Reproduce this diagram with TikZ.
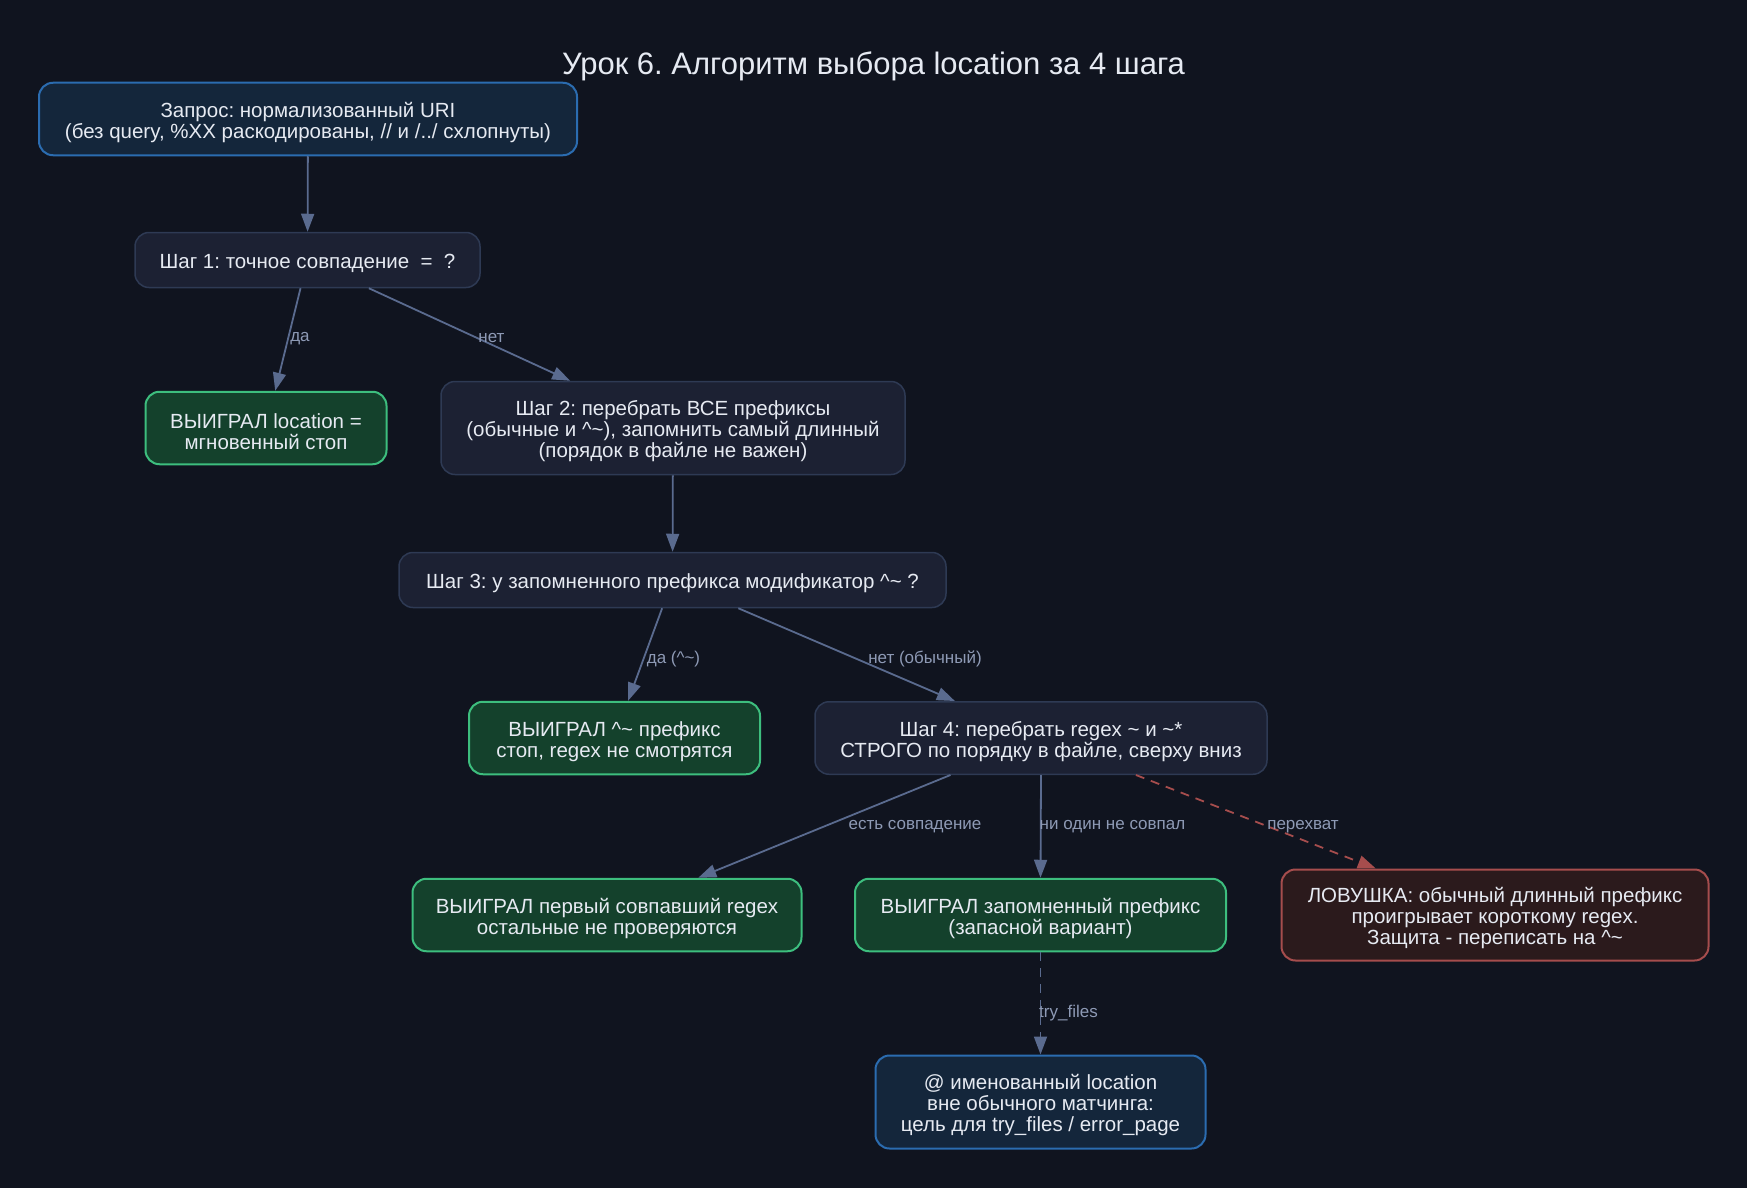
\documentclass[tikz,border=0pt]{standalone}
\usepackage{fontspec}
\setmainfont{Liberation Sans}
\usetikzlibrary{arrows.meta}
\definecolor{bg}{HTML}{10141F}
\definecolor{txt}{HTML}{E6EAF2}
\definecolor{nfill}{HTML}{1C2133}
\definecolor{nborder}{HTML}{2E3A54}
\definecolor{bfill}{HTML}{14263B}
\definecolor{bborder}{HTML}{2B6CB0}
\definecolor{gfill}{HTML}{14412C}
\definecolor{gborder}{HTML}{3DBE7E}
\definecolor{rfill}{HTML}{2B1A1C}
\definecolor{rborder}{HTML}{A64D4D}
\definecolor{ecol}{HTML}{5A6B8F}
\definecolor{lcol}{HTML}{8E9AB5}
\newcommand{\caret}{\textasciicircum}
\newcommand{\tild}{\textasciitilde}
\frenchspacing
\begin{document}
\begin{tikzpicture}[x=1pt,y=-1pt,
  box/.style={rounded corners=14pt, inner sep=0pt},
  btext/.style={align=center, inner sep=0pt, font=\fontsize{20.5}{21}\selectfont, text=txt},
  darkbox/.style={box, fill=nfill, draw=nborder, line width=1.5pt},
  bluebox/.style={box, fill=bfill, draw=bborder, line width=2pt},
  greenbox/.style={box, fill=gfill, draw=gborder, line width=2pt},
  redbox/.style={box, fill=rfill, draw=rborder, line width=2pt},
  conn/.style={draw=ecol, line width=1.8pt, -{Triangle[length=18pt,width=13pt]}},
  dconn/.style={conn, dash pattern=on 9pt off 7pt},
  rconn/.style={conn, draw=rborder, dash pattern=on 9pt off 7pt, -{Triangle[length=18pt,width=13pt,fill=rborder]}},
  elabel/.style={font=\fontsize{17}{18}\selectfont, text=lcol, inner sep=0pt}
]
\fill[bg] (0,0) rectangle (1747,1188);
\useasboundingbox (0,0) rectangle (1747,1188);

\node[text=txt, font=\fontsize{31}{34}\selectfont] (title) at (873.5,66) {Урок 6. Алгоритм выбора location за 4 шага};

\node[bluebox, minimum width=538pt, minimum height=72.5pt] (req) at (308,119) {};
\node[btext] (reqt) at ([yshift=-3.5pt]req.center)
  {Запрос: нормализованный URI\\(без query, \%XX раскодированы, // и /../ схлопнуты)};
\node[darkbox, minimum width=345pt, minimum height=55pt] (s1) at (307.5,260) {};
\node[btext] (s1t) at ([yshift=-3.5pt]s1.center)
  {Шаг 1: точное совпадение\ \ =\ \ ?};
\node[greenbox, minimum width=241pt, minimum height=72.5pt] (w1) at (266,428) {};
\node[btext] (w1t) at ([yshift=-3.5pt]w1.center)
  {ВЫИГРАЛ location =\\мгновенный стоп};
\node[darkbox, minimum width=464pt, minimum height=93pt] (s2) at (673,428) {};
\node[btext] (s2t) at ([yshift=-3.5pt]s2.center)
  {Шаг 2: перебрать ВСЕ префиксы\\(обычные и \caret\tild), запомнить самый длинный\\(порядок в файле не важен)};
\node[darkbox, minimum width=547pt, minimum height=55pt] (s3) at (672.5,580) {};
\node[btext] (s3t) at ([yshift=-3.5pt]s3.center)
  {Шаг 3: у запомненного префикса модификатор \caret\tild{} ?};
\node[greenbox, minimum width=291pt, minimum height=72.5pt] (w2) at (614.5,738) {};
\node[btext] (w2t) at ([yshift=-3.5pt]w2.center)
  {ВЫИГРАЛ \caret\tild{} префикс\\стоп, regex не смотрятся};
\node[darkbox, minimum width=452pt, minimum height=72.5pt] (s4) at (1041,738) {};
\node[btext] (s4t) at ([yshift=-3.5pt]s4.center)
  {Шаг 4: перебрать regex \tild{} и \tild*\\СТРОГО по порядку в файле, сверху вниз};
\node[greenbox, minimum width=389pt, minimum height=72.5pt] (w3) at (607,915) {};
\node[btext] (w3t) at ([yshift=-3.5pt]w3.center)
  {ВЫИГРАЛ первый совпавший regex\\остальные не проверяются};
\node[greenbox, minimum width=371pt, minimum height=72.5pt] (w4) at (1040.5,915) {};
\node[btext] (w4t) at ([yshift=-3.5pt]w4.center)
  {ВЫИГРАЛ запомненный префикс\\(запасной вариант)};
\node[redbox, minimum width=427pt, minimum height=91pt] (trap) at (1495,915) {};
\node[btext] (trapt) at ([yshift=-3.5pt]trap.center)
  {ЛОВУШКА: обычный длинный префикс\\проигрывает короткому regex.\\Защита - переписать на \caret\tild};
\node[bluebox, minimum width=330pt, minimum height=93pt] (named) at (1040.5,1102) {};
\node[btext] (namedt) at ([yshift=-3.5pt]named.center)
  {@ именованный location\\вне обычного матчинга:\\цель для try\_files / error\_page};

\draw[conn] (req) -- (s1);
\draw[conn] (s1) -- (w1);
\draw[conn] (s1) -- (s2);
\draw[conn] (s2) -- (s3);
\draw[conn] (s3) -- (w2);
\draw[conn] (s3) -- (s4);
\draw[conn] (s4) -- (w3);
\draw[conn] (s4.south) -- (w4.north);
\draw[rconn] (s4) -- (trap);
\draw[dconn] (w4.south) -- (named.north);

\node[elabel] (l1) at (300,338.5) {да};
\node[elabel] (l2) at (491.5,338.5) {нет};
\node[elabel] (l3) at (673.5,659) {да (\caret\tild)};
\node[elabel] (l4) at (925,659) {нет (обычный)};
\node[elabel] (l5) at (915,827) {есть совпадение};
\node[elabel] (l6) at (1112.5,827) {ни один не совпал};
\node[elabel] (l7) at (1303,827) {перехват};
\node[elabel] (l8) at (1068.5,1013) {try\_files};
\end{tikzpicture}
\end{document}
